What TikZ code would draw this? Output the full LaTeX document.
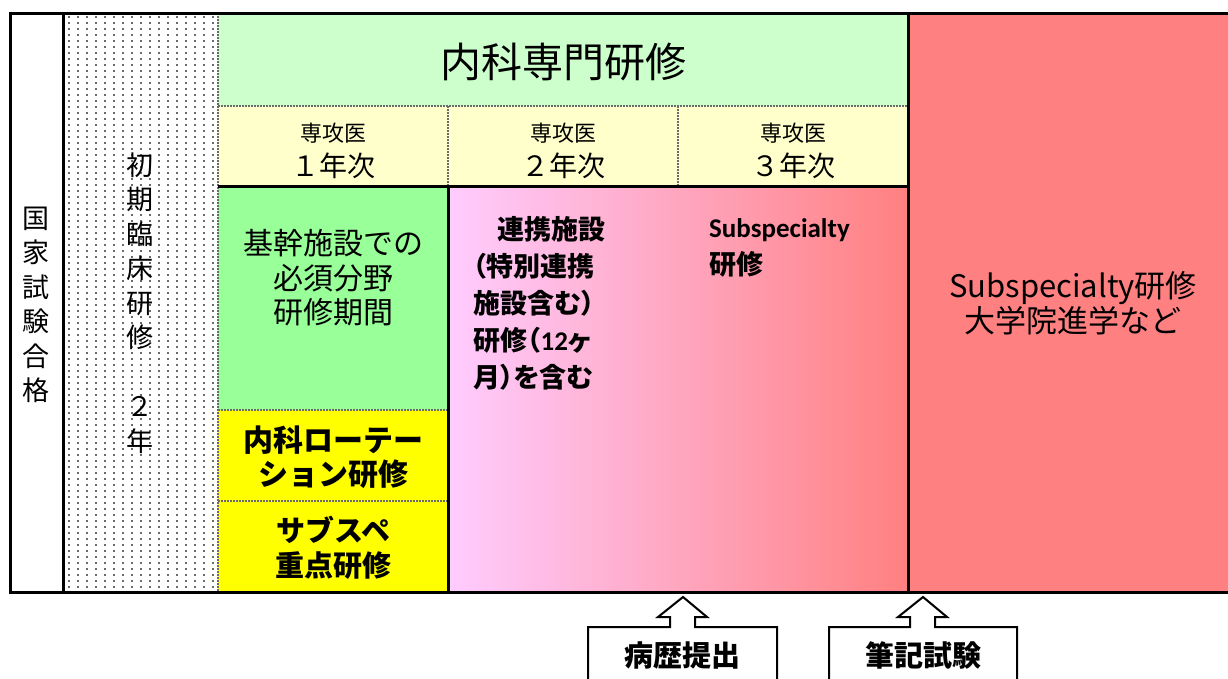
\documentclass[tikz,border=0pt]{standalone}
\usepackage{fontspec}
\setmainfont{Noto Sans CJK JP}
\newfontfamily\pfont[RawFeature=+palt]{Noto Sans CJK JP}
\newfontfamily\latinf{Carlito}
\definecolor{hdrgreen}{HTML}{CCFFCC}
\definecolor{rowyellow}{HTML}{FFFFCC}
\definecolor{boxgreen}{HTML}{99FF99}
\definecolor{boxyellow}{HTML}{FFFF00}
\definecolor{boxred}{HTML}{FF8080}
\definecolor{boxpink}{HTML}{FFCCFF}
\definecolor{dotc}{HTML}{6A6A6A}
\begin{document}
\begin{tikzpicture}[x=1pt,y=-1pt,
  thick line/.style={line width=3pt,black},
  sep line/.style={line width=1.2pt,dotc,dash pattern=on 2pt off 1pt},
  txt/.style={align=center,inner sep=0pt,text=black},
  callout/.style={draw=black,line width=2pt,fill=white,line join=miter}]
\useasboundingbox (0,0) rectangle (1228,678);
\clip (0,0) rectangle (1228,678);
% fills
\fill[white] (10,13) rectangle (218,592);
\foreach \i in {0,...,16}{
  \foreach \j in {0,...,95}{
    \fill[dotc] (67.5+\i*9,16+\j*6) rectangle ++(2.2,2.2);
  }
}
\fill[hdrgreen] (218,13) rectangle (908,106);
\fill[rowyellow] (218,106) rectangle (908,186);
\fill[boxgreen] (218,186) rectangle (448,410);
\fill[boxyellow] (218,410) rectangle (448,592);
\shade[left color=boxpink,right color=boxred] (448,186) rectangle (908,592);
\fill[boxred] (908,13) rectangle (1230,592);
% separators
\draw[sep line] (218,13) -- (218,592);
\draw[sep line] (218,106) -- (908,106);
\draw[sep line] (448,106) -- (448,186);
\draw[sep line] (678,106) -- (678,186);
\draw[sep line] (218,410) -- (448,410);
\draw[sep line] (218,501) -- (448,501);
\draw[thick line] (218,186) -- (908,186);
\draw[thick line] (448,186) -- (448,592);
\draw[thick line] (908,13) -- (908,592);
\draw[thick line] (63,13) -- (63,592);
\draw[thick line] (10,13) -- (1230,13);
\draw[thick line] (10,592) -- (1230,592);
\draw[thick line] (10,11.5) -- (10,593.5);
% texts
\node[txt,font=\fontsize{27}{34.5}\selectfont] (kokka) at (36,305) {国\\家\\試\\験\\合\\格};
\node[txt,font=\fontsize{27}{34.5}\selectfont] (shoki) at (140,303) {初\\期\\臨\\床\\研\\修\\[34.5pt]２\\年};
\node[txt,font=\fontsize{41}{44}\selectfont] (naika) at (563,62) {内科専門研修};
\node[txt,font=\fontsize{22}{24}\selectfont] (sk1) at (333,133) {専攻医};
\node[txt,font=\fontsize{28}{30}\selectfont] (y1) at (333,166) {１年次};
\node[txt,font=\fontsize{22}{24}\selectfont] (sk2) at (563,133) {専攻医};
\node[txt,font=\fontsize{28}{30}\selectfont] (y2) at (563,166) {２年次};
\node[txt,font=\fontsize{22}{24}\selectfont] (sk3) at (793,133) {専攻医};
\node[txt,font=\fontsize{28}{30}\selectfont] (y3) at (793,166) {３年次};
\node[txt,font=\fontsize{30}{34.5}\selectfont] (kikan) at (333,278) {基幹施設での\\必須分野\\研修期間};
\node[txt,font=\fontsize{30}{34}\selectfont\bfseries] (rot) at (333,457) {内科ローテー\\ション研修};
\node[txt,font=\fontsize{29}{35}\selectfont\bfseries] (subsp) at (333,548) {サブスペ\\重点研修};
\node[txt,align=left,anchor=west,font=\pfont\fontsize{27}{37}\selectfont\bfseries] (renkei) at (473,303)
  {\hspace*{0.9em}連携施設\\（特別連携\\施設含む）\\研修（{\latinf 12}ヶ\\月）を含む};
\node[txt,align=left,anchor=north west,font=\fontsize{27}{37}\selectfont\bfseries] (subspec) at (709,218)
  {{\latinf Subspecialty}\\研修};
\node[txt,font=\fontsize{31}{35}\selectfont] (red) at (1073,303) {Subspecialty研修\\大学院進学など};
% callouts
\draw[callout] (588,690) -- (588,627) -- (670,627) -- (670,617) -- (658,617) -- (683,597)
  -- (707,617) -- (695,617) -- (695,627) -- (777,627) -- (777,690);
\draw[callout] (829,690) -- (829,627) -- (910,627) -- (910,617) -- (898,617) -- (923,597)
  -- (947,617) -- (935,617) -- (935,627) -- (1017,627) -- (1017,690);
\node[txt,font=\fontsize{29}{34}\selectfont\bfseries] (byoreki) at (682,655) {病歴提出};
\node[txt,font=\fontsize{29}{34}\selectfont\bfseries] (hikki) at (923,655) {筆記試験};
\end{tikzpicture}
\end{document}
